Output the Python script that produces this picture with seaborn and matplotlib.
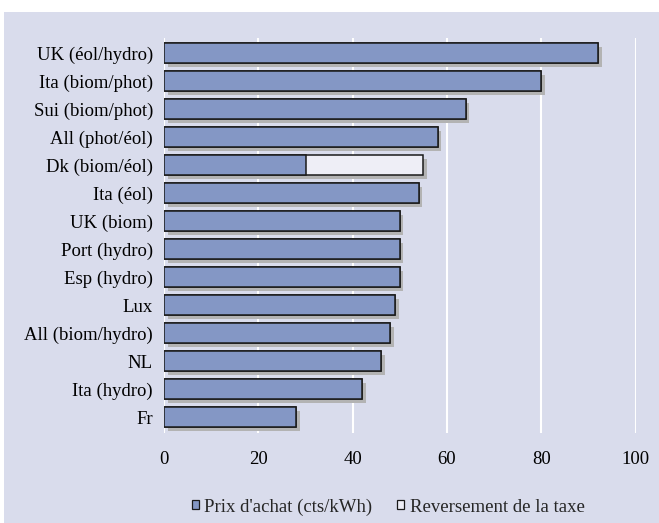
import matplotlib
matplotlib.use("Agg")
import matplotlib.pyplot as plt
import matplotlib.patheffects as pe
from matplotlib.patches import Patch, Rectangle
import seaborn as sns
import pandas as pd

categories = ["UK (éol/hydro)", "Ita (biom/phot)", "Sui (biom/phot)", "All (phot/éol)",
              "Dk (biom/éol)", "Ita (éol)", "UK (biom)", "Port (hydro)", "Esp (hydro)",
              "Lux", "All (biom/hydro)", "NL", "Ita (hydro)", "Fr"]
prix_achat = [92, 80, 64, 58, 30, 54, 50, 50, 50, 49, 48, 46, 42, 28]
reversement_taxe = [0, 0, 0, 0, 25, 0, 0, 0, 0, 0, 0, 0, 0, 0]
x_ticks = [0, 20, 40, 60, 80, 100]
series_names = ["Prix d'achat (cts/kWh)", "Reversement de la taxe"]

BG = "#D9DCEC"
BLUE = "#8497C5"
WHITE_BAR = "#EEEEF6"
SHADOW = "#B3B3B3"
EDGE = "#1A1A1A"
FS = 13.5

df = pd.DataFrame({"cat": categories, "prix": prix_achat, "taxe": reversement_taxe})
df["total"] = df["prix"] + df["taxe"]

sns.set_theme(style="white")
plt.rcParams["font.family"] = ["Liberation Serif", "DejaVu Serif"]

fig = plt.figure(figsize=(6.59, 5.23), dpi=100)
fig.patch.set_facecolor("white")
fig.patches.append(Rectangle((4 / 659, 0), 1 - 4 / 659, (523 - 12) / 523,
                             transform=fig.transFigure, facecolor=BG, edgecolor="none", zorder=-10))

ax = fig.add_axes([164 / 659, (523 - 433) / 523, (635.7 - 164) / 659, (433 - 38) / 523])
ax.set_facecolor("none")

shadow = [pe.SimplePatchShadow(offset=(2.6, -2.6), shadow_rgbFace=SHADOW, alpha=1.0), pe.Normal()]

sns.barplot(data=df, y="cat", x="total", orient="h", color=WHITE_BAR, saturation=1,
            edgecolor=EDGE, linewidth=1.1, width=0.71, ax=ax, zorder=3)
for p in ax.patches:
    p.set_path_effects(shadow)
    p.set_facecolor(WHITE_BAR)
n_first = len(ax.patches)
sns.barplot(data=df, y="cat", x="prix", orient="h", color=BLUE, saturation=1,
            edgecolor=EDGE, linewidth=1.1, width=0.71, ax=ax, zorder=4)
for p in ax.patches[n_first:]:
    p.set_facecolor(BLUE)

ax.set_xlim(0, 100)
ax.set_ylim(13.56, -0.54)
ax.set_xticks(x_ticks)
ax.set_xticklabels([str(t) for t in x_ticks])
ax.xaxis.grid(True, color="white", linewidth=1.5, zorder=0)
ax.set_axisbelow(True)
for s in ax.spines.values():
    s.set_visible(False)
ax.tick_params(axis="both", length=0, labelsize=FS, colors="black")
ax.tick_params(axis="x", pad=13)
ax.tick_params(axis="y", pad=8)
ax.set_xlabel("")
ax.set_ylabel("")

handles = [Patch(facecolor=BLUE, edgecolor=EDGE, linewidth=0.9),
           Patch(facecolor=WHITE_BAR, edgecolor=EDGE, linewidth=0.9)]
fig.legend(handles, series_names, loc="center", bbox_to_anchor=(388 / 659, 1 - 507 / 523),
           ncol=2, frameon=False, fontsize=FS, handlelength=0.38, handleheight=0.38,
           handletextpad=0.3, columnspacing=1.3, borderpad=0)

fig.savefig("out.png", dpi=100, facecolor=fig.get_facecolor())
